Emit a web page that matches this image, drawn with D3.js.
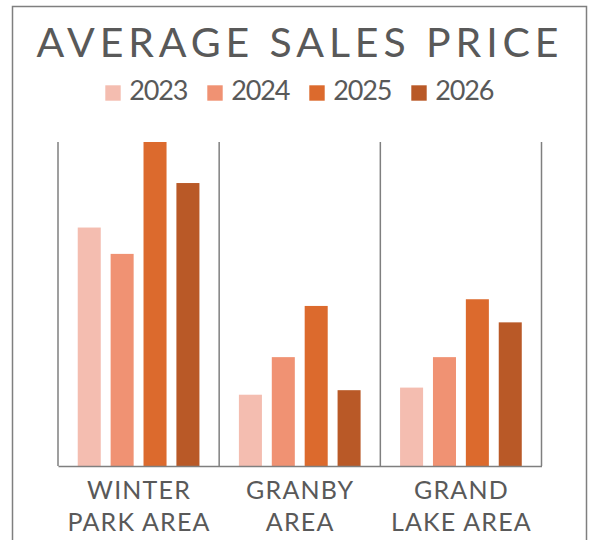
<!DOCTYPE html>
<html>
<head>
<meta charset="utf-8">
<script src="https://cdn.jsdelivr.net/npm/d3@7"></script>
<style>
    body { margin: 0; background: #fff; }
    text { font-family: Lato, "Open Sans", sans-serif; fill: #595959; }
</style>
</head>
<body>
<script>
// Chart values (thousands of dollars).
const areas = [["WINTER", "PARK AREA"], ["GRANBY", "AREA"], ["GRAND", "LAKE AREA"]];
const years = ["2023", "2024", "2025", "2026"];
const winterPark = [1104, 982, 1500, 1310];
const granby = [330, 504, 741, 351];
const grandLake = [363, 504, 772, 665];
const colors = ["#f4bdb0", "#f09273", "#dc6a2d", "#b95927"];

const series = [winterPark, granby, grandLake];
const areaKeys = areas.map(a => a.join(" "));

const width = 592;
const height = 540;
const marginTop = 142;
const marginRight = 50.5;
const marginBottom = 74;
const marginLeft = 58;

const svg = d3.select("body")
    .append("svg")
        .attr("width", width)
        .attr("height", height);

// Outer frame
svg.append("rect")
    .attr("x", 12.5)
    .attr("y", 6.5)
    .attr("width", 574)
    .attr("height", 540)
    .attr("fill", "none")
    .attr("stroke", "#7f7f7f")
    .attr("stroke-width", 1.5);

// Title
svg.append("text")
    .attr("x", 297.5)
    .attr("y", 56.5)
    .attr("text-anchor", "middle")
    .attr("textLength", 522)
    .attr("lengthAdjust", "spacing")
    .style("font-size", "41px")
    .text("AVERAGE SALES PRICE");

// Legend
const legend = svg.append("g")
    .selectAll("g")
    .data(years)
    .join("g")
        .attr("transform", (d, i) => `translate(${105.3 + i * 102},0)`);

legend.append("rect")
    .attr("y", 85.3)
    .attr("width", 15.4)
    .attr("height", 15.4)
    .attr("fill", (d, i) => colors[i]);

legend.append("text")
    .attr("x", 24)
    .attr("y", 100)
    .attr("textLength", 59)
    .style("font-size", "27px")
    .text(d => d);

// Scales
const x0 = d3.scaleBand()
    .domain(areaKeys)
    .range([marginLeft, width - marginRight]);

const x1 = d3.scaleBand()
    .domain(years)
    .range([0, x0.bandwidth()])
    .paddingInner(0.3)
    .paddingOuter(0.6);

const y = d3.scaleLinear()
    .domain([0, 1500])
    .range([height - marginBottom, marginTop]);

// Bars
svg.append("g")
    .selectAll("g")
    .data(series.map((vals, i) => ({ key: areaKeys[i], vals })))
    .join("g")
        .attr("transform", d => `translate(${x0(d.key)},0)`)
    .selectAll("rect")
    .data(d => d.vals.map((v, i) => ({ year: years[i], value: v, color: colors[i] })))
    .join("rect")
        .attr("x", d => x1(d.year))
        .attr("y", d => y(d.value))
        .attr("width", x1.bandwidth())
        .attr("height", d => y(0) - y(d.value))
        .attr("fill", d => d.color);

// Baseline and group dividers
const axis = svg.append("g")
    .attr("transform", `translate(0,${height - marginBottom})`)
    .call(d3.axisBottom(x0).tickSize(0).tickSizeOuter(0).tickFormat(""));
axis.select(".domain").attr("stroke", "#7f7f7f").attr("stroke-width", 1.5);

const dividers = areaKeys.map(k => x0(k)).concat([x0.range()[1]]);
svg.append("g")
    .selectAll("line")
    .data(dividers)
    .join("line")
        .attr("x1", d => d)
        .attr("x2", d => d)
        .attr("y1", y.range()[1])
        .attr("y2", y.range()[0])
        .attr("stroke", "#7f7f7f")
        .attr("stroke-width", 1.5);

// Category labels (two lines each)
svg.append("g")
    .selectAll("text")
    .data(areas)
    .join("text")
        .attr("x", (d, i) => x0(areaKeys[i]) + x0.bandwidth() / 2 + 0.5)
        .attr("text-anchor", "middle")
        .style("font-size", "25px")
        .style("letter-spacing", "1.2px")
        .selectAll("tspan")
        .data(d => d)
        .join("tspan")
            .attr("x", function() { return this.parentNode.getAttribute("x"); })
            .attr("y", (d, i) => 499 + i * 31.7)
            .text(d => d);
</script>
</body>
</html>
